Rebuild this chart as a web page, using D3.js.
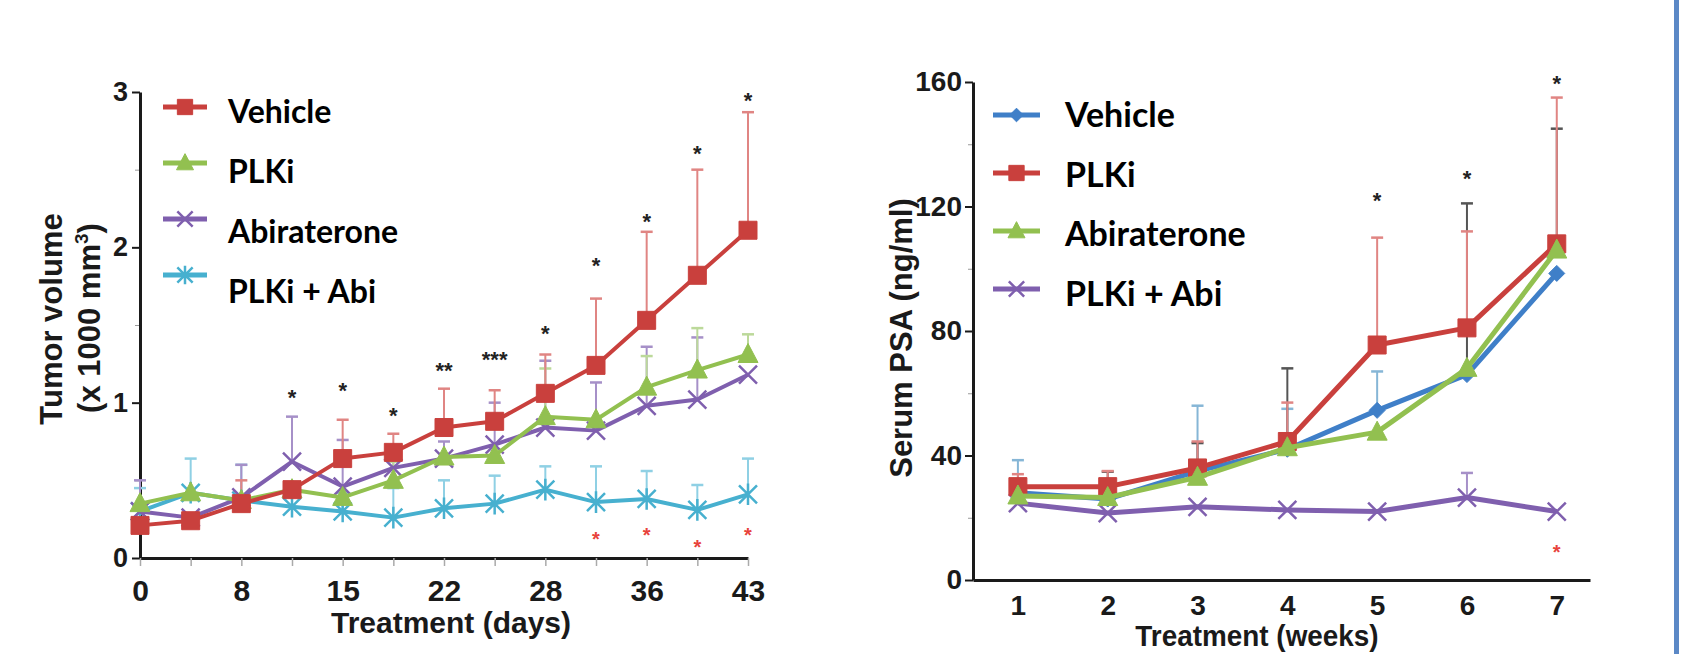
<!DOCTYPE html>
<html>
<head>
<meta charset="utf-8">
<script src="https://cdn.jsdelivr.net/npm/d3@7"></script>
<style>
  body { margin: 0; background: #fff; }
  svg { display: block; }
</style>
</head>
<body>
<svg id="fig" width="1695" height="654"></svg>
<script>
/* ---- data: tumor volume (x 1000 mm3) ---- */
var days = [0, 4, 8, 12, 15, 18, 22, 25, 28, 32, 36, 40, 43];
var dayLabels = [0, 8, 15, 22, 28, 36, 43];
var tvVehicle = [0.21, 0.24, 0.35, 0.44, 0.64, 0.68, 0.84, 0.88, 1.06, 1.24, 1.53, 1.82, 2.11];
var tvPlki    = [0.35, 0.42, 0.37, 0.44, 0.39, 0.50, 0.65, 0.66, 0.91, 0.89, 1.10, 1.21, 1.31];
var tvAbi     = [0.30, 0.26, 0.39, 0.62, 0.46, 0.58, 0.64, 0.73, 0.84, 0.82, 0.98, 1.02, 1.18];
var tvCombo   = [0.30, 0.42, 0.37, 0.33, 0.30, 0.26, 0.32, 0.35, 0.44, 0.36, 0.38, 0.31, 0.41];
// top of each error bar (null = none visible)
var tvVehicleUp = [null, null, 0.50, null, 0.89, 0.80, 1.09, 1.08, 1.31, 1.67, 2.10, 2.50, 2.87];
var tvPlkiUp    = [null, null, null, null, null, 0.62, null, null, 1.22, null, 1.30, 1.48, 1.44];
var tvAbiUp     = [0.50, null, 0.60, 0.91, 0.76, 0.72, 0.75, 1.00, 1.27, 1.13, 1.36, 1.42, null];
var tvComboUp   = [0.45, 0.64, 0.60, 0.45, 0.42, 0.45, 0.50, 0.53, 0.59, 0.59, 0.56, 0.47, 0.64];
var tvSigDays = [12, 15, 18, 22, 25, 28, 32, 36, 40, 43];
var tvSigY    = [1.07, 1.11, 0.95, 1.24, 1.31, 1.48, 1.92, 2.20, 2.64, 2.98];
var tvSigText = ['*', '*', '*', '**', '***', '*', '*', '*', '*', '*'];
var tvComboSigDays = [32, 36, 40, 43];
var tvComboSigY    = [0.15, 0.18, 0.10, 0.18];

/* ---- data: serum PSA (ng/ml) ---- */
var weeks = [1, 2, 3, 4, 5, 6, 7];
var psaVehicle = [28.0, 26.0, 35.0, 42.0, 54.5, 66.0, 98.5];
var psaPlki    = [30.0, 30.0, 36.0, 44.5, 75.5, 81.0, 108.0];
var psaAbi     = [27.0, 26.5, 33.0, 42.5, 47.5, 68.0, 106.0];
var psaCombo   = [24.7, 21.5, 23.5, 22.5, 22.0, 26.5, 22.0];
var psaVehicleUp = [38.5, null, 56.0, 55.0, 67.0, null, null];
var psaPlkiUp    = [34.0, 35.0, 44.5, 57.0, 110.0, 112.0, 155.0];
var psaAbiUp     = [null, 34.8, 44.0, 68.0, null, 121.0, 145.0];
var psaComboUp   = [null, null, null, null, null, 34.4, null];
var psaSigWeeks = [5, 6, 7];
var psaSigY     = [123.7, 130.8, 161.3];
var psaComboSigWeeks = [7];
var psaComboSigY     = [10.6];

var legendNames = ['Vehicle', 'PLKi', 'Abiraterone', 'PLKi + Abi'];

/* ---- styles ---- */
var RED = '#c9403d', GREEN = '#92c050', PURPLE = '#7f5fae', CYAN = '#47b0cf', BLUE = '#3f7fc8';
var AX_FONT = '"Liberation Sans", Arial, sans-serif';
var LEG_FONT = 'Lato, "Open Sans", sans-serif';

var svg = d3.select('#fig');

var markerD = function(type, s) {
  switch (type) {
    case 'square': return 'M' + (-s) + ',' + (-s) + 'h' + 2 * s + 'v' + 2 * s + 'h' + (-2 * s) + 'Z';
    case 'diamond': return 'M0,' + (-s) + 'L' + s + ',0L0,' + s + 'L' + (-s) + ',0Z';
    case 'triangle': return 'M0,' + (-s * 1.1) + 'L' + s + ',' + (s * 0.8) + 'L' + (-s) + ',' + (s * 0.8) + 'Z';
    case 'x': return 'M' + (-s) + ',' + (-s) + 'L' + s + ',' + s + 'M' + (-s) + ',' + s + 'L' + s + ',' + (-s);
    case 'star': return markerD('x', s) + 'M0,' + (-s * 1.2) + 'L0,' + (s * 1.2);
  }
}
var isFilled = function(type) { return type === 'square' || type === 'diamond' || type === 'triangle'; }

var drawMarker = function(g, type, s, color, tx, ty) {
  g.append('path')
    .attr('transform', 'translate(' + tx + ',' + ty + ')')
    .attr('d', markerD(type, s))
    .attr('fill', isFilled(type) ? color : 'none')
    .attr('stroke', color)
    .attr('stroke-width', isFilled(type) ? 1 : 2.5);
}

var drawErrors = function(g, x, y, xs, vals, ups, color) {
  xs.forEach(function(xv, i) {
    if (ups[i] == null) return;
    var px = x(xv);
    g.append('line').attr('x1', px).attr('x2', px)
      .attr('y1', y(vals[i])).attr('y2', y(ups[i]))
      .attr('stroke', color).attr('stroke-width', 2);
    g.append('line').attr('x1', px - 6).attr('x2', px + 6)
      .attr('y1', y(ups[i])).attr('y2', y(ups[i]))
      .attr('stroke', color).attr('stroke-width', 2.5);
  });
}

var drawSeries = function(g, x, y, xs, vals, st) {
  var line = d3.line().x(function(d, i) { return x(xs[i]); }).y(function(d) { return y(d); });
  g.append('path').datum(vals).attr('d', line)
    .attr('fill', 'none').attr('stroke', st.color).attr('stroke-width', st.lw)
    .attr('stroke-linejoin', 'round');
  vals.forEach(function(v, i) { drawMarker(g, st.marker, st.size, st.color, x(xs[i]), y(v)); });
}

var drawStars = function(g, x, y, xs, ys, texts, color, fs) {
  g.selectAll(null).data(xs).join('text')
    .attr('x', function(d) { return x(d); })
    .attr('y', function(d, i) { return y(ys[i]); })
    .attr('dy', '0.58em')
    .attr('text-anchor', 'middle')
    .attr('font-family', AX_FONT).attr('font-size', fs).attr('font-weight', 'bold')
    .attr('fill', color)
    .text(function(d, i) { return texts ? texts[i] : '*'; });
}

var styleAxis = function(ag, fs) {
  ag.attr('font-family', AX_FONT).attr('font-size', fs).attr('font-weight', 'bold');
  ag.selectAll('.tick text').attr('fill', '#1a1a1a');
  ag.select('.domain').attr('stroke', '#1a1a1a').attr('stroke-width', 3);
}

var drawLegend = function(g, styles, x0, x1, lineY0, lineStep, textX, textY0, textStep, fs) {
  styles.forEach(function(st, i) {
    var ly = lineY0 + i * lineStep;
    g.append('line').attr('x1', x0).attr('x2', x1).attr('y1', ly).attr('y2', ly)
      .attr('stroke', st.color).attr('stroke-width', 5);
    drawMarker(g, st.marker, st.size * 0.85, st.color, (x0 + x1) / 2, ly);
    g.append('text').attr('x', textX).attr('y', textY0 + i * textStep)
      .attr('font-family', LEG_FONT).attr('font-size', fs).attr('font-weight', 'bold')
      .attr('fill', '#000').text(legendNames[i]);
  });
}

/* ================= left panel ================= */
var gl = svg.append('g');
var xL = d3.scalePoint().domain(days).range([140, 748]);
var yL = d3.scaleLinear().domain([0, 3]).range([558, 92]);

var tvStyles = [
  {color: RED, marker: 'square', size: 9, lw: 4},
  {color: GREEN, marker: 'triangle', size: 10, lw: 4},
  {color: PURPLE, marker: 'x', size: 9, lw: 4},
  {color: CYAN, marker: 'star', size: 9, lw: 4}
];

// minor ticks
gl.append('g').attr('transform', 'translate(140,0)')
  .call(d3.axisLeft(yL).tickValues([0.5, 1.5, 2.5]).tickSize(5).tickFormat(''))
  .call(function(a) { a.select('.domain').remove(); a.selectAll('line').attr('stroke', '#999'); });

var axL = gl.append('g').attr('transform', 'translate(140,0)')
  .call(d3.axisLeft(yL).tickValues([0, 1, 2, 3]).tickSize(8).tickSizeOuter(0).tickPadding(4).tickFormat(d3.format('d')));
styleAxis(axL, 27);
axL.selectAll('.tick line').attr('stroke', '#1a1a1a').attr('stroke-width', 2);

var axB = gl.append('g').attr('transform', 'translate(0,558)')
  .call(d3.axisBottom(xL).tickSize(8).tickSizeOuter(0).tickPadding(14)
    .tickFormat(function(d) { return dayLabels.indexOf(d) >= 0 ? d : ''; }));
styleAxis(axB, 30);
axB.selectAll('.tick line').attr('stroke', '#aaa').attr('stroke-width', 1.5);

drawErrors(gl, xL, yL, days, tvCombo, tvComboUp, '#8fd0e4');
drawErrors(gl, xL, yL, days, tvAbi, tvAbiUp, '#a690c8');
drawErrors(gl, xL, yL, days, tvPlki, tvPlkiUp, '#bcd99a');
drawErrors(gl, xL, yL, days, tvVehicle, tvVehicleUp, '#e08583');

drawSeries(gl, xL, yL, days, tvCombo, tvStyles[3]);
drawSeries(gl, xL, yL, days, tvAbi, tvStyles[2]);
drawSeries(gl, xL, yL, days, tvPlki, tvStyles[1]);
drawSeries(gl, xL, yL, days, tvVehicle, tvStyles[0]);

drawStars(gl, xL, yL, tvSigDays, tvSigY, tvSigText, '#222', 22);
drawStars(gl, xL, yL, tvComboSigDays, tvComboSigY, null, '#e8433c', 20);

drawLegend(gl, tvStyles, 163, 207, 107, 56, 228, 123, 60, 32);

gl.append('text').attr('transform', 'translate(451,633)')
  .attr('text-anchor', 'middle').attr('font-family', AX_FONT).attr('font-size', 30)
  .attr('font-weight', 'bold').attr('fill', '#1a1a1a').text('Treatment (days)');
gl.append('text').attr('transform', 'translate(62,319) rotate(-90)')
  .attr('text-anchor', 'middle').attr('font-family', AX_FONT).attr('font-size', 31)
  .attr('font-weight', 'bold').attr('fill', '#1a1a1a').text('Tumor volume');
var t2 = gl.append('text').attr('transform', 'translate(100,318) rotate(-90)')
  .attr('text-anchor', 'middle').attr('font-family', AX_FONT).attr('font-size', 31)
  .attr('font-weight', 'bold').attr('fill', '#1a1a1a');
t2.append('tspan').text('(x 1000 mm');
t2.append('tspan').attr('dy', -12).attr('font-size', 19).text('3');
t2.append('tspan').attr('dy', 12).text(')');

/* ================= right panel ================= */
var gr = svg.append('g');
var xR = d3.scaleLinear().domain([0.5, 7.37]).range([973, 1590]);
var yR = d3.scaleLinear().domain([0, 160]).range([580, 82]);

var psaStyles = [
  {color: BLUE, marker: 'diamond', size: 8, lw: 5},
  {color: RED, marker: 'square', size: 9, lw: 5},
  {color: GREEN, marker: 'triangle', size: 10, lw: 5},
  {color: PURPLE, marker: 'x', size: 9, lw: 5}
];

gr.append('g').attr('transform', 'translate(973,0)')
  .call(d3.axisLeft(yR).tickValues([20, 60, 100, 140]).tickSize(5).tickFormat(''))
  .call(function(a) { a.select('.domain').remove(); a.selectAll('line').attr('stroke', '#999'); });

var axR = gr.append('g').attr('transform', 'translate(973,0)')
  .call(d3.axisLeft(yR).tickValues([0, 40, 80, 120, 160]).tickSize(8).tickSizeOuter(0).tickPadding(3));
styleAxis(axR, 28);
axR.selectAll('.tick line').attr('stroke', '#1a1a1a').attr('stroke-width', 2);

var axRB = gr.append('g').attr('transform', 'translate(0,580)')
  .call(d3.axisBottom(xR).tickValues(weeks).tickSize(0).tickSizeOuter(0).tickPadding(15)
    .tickFormat(d3.format('d')));
styleAxis(axRB, 28);

drawErrors(gr, xR, yR, weeks, psaCombo, psaComboUp, '#a690c8');
drawErrors(gr, xR, yR, weeks, psaVehicle, psaVehicleUp, '#86b6d6');
drawErrors(gr, xR, yR, weeks, psaAbi, psaAbiUp, '#555');
drawErrors(gr, xR, yR, weeks, psaPlki, psaPlkiUp, '#e08583');

drawSeries(gr, xR, yR, weeks, psaCombo, psaStyles[3]);
drawSeries(gr, xR, yR, weeks, psaVehicle, psaStyles[0]);
drawSeries(gr, xR, yR, weeks, psaPlki, psaStyles[1]);
drawSeries(gr, xR, yR, weeks, psaAbi, psaStyles[2]);

drawStars(gr, xR, yR, psaSigWeeks, psaSigY, null, '#222', 22);
drawStars(gr, xR, yR, psaComboSigWeeks, psaComboSigY, null, '#e8433c', 20);

drawLegend(gr, psaStyles, 993, 1040, 115, 58, 1065, 127, 59.5, 34);

gr.append('text').attr('transform', 'translate(1257,646) scale(0.93,1)')
  .attr('text-anchor', 'middle').attr('font-family', AX_FONT).attr('font-size', 30)
  .attr('font-weight', 'bold').attr('fill', '#1a1a1a').text('Treatment (weeks)');
gr.append('text').attr('transform', 'translate(912,338) rotate(-90)')
  .attr('text-anchor', 'middle').attr('font-family', AX_FONT).attr('font-size', 31)
  .attr('font-weight', 'bold').attr('fill', '#1a1a1a').text('Serum PSA (ng/ml)');

/* slide border on the right */
svg.append('rect').attr('x', 1674).attr('y', 0).attr('width', 5).attr('height', 654).attr('fill', '#5b88c6');
</script>
</body>
</html>
